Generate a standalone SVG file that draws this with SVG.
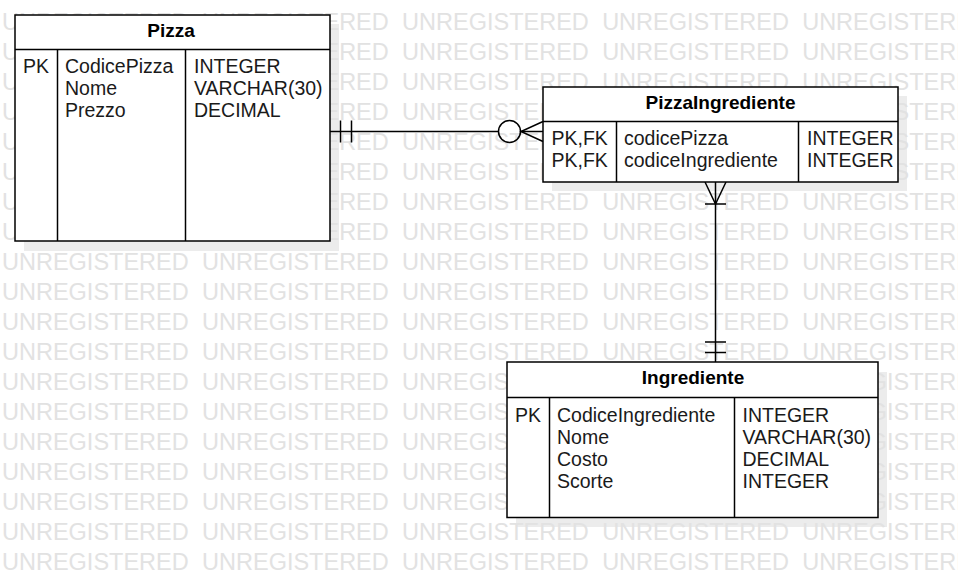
<svg xmlns="http://www.w3.org/2000/svg" width="958" height="577" viewBox="0 0 958 577">
<style>
.wm{font-family:"Liberation Sans",Arial,sans-serif;font-size:23.5px;fill:#e2e2e2;word-spacing:6.8px}
.sh{fill:#ececec}
.box{fill:#ffffff;stroke:#000000;stroke-width:1.5}
.ln{stroke:#000000;stroke-width:1.5;fill:none}
.hd{font-family:"Liberation Sans",Arial,sans-serif;font-size:19px;font-weight:bold;fill:#000000;text-anchor:middle}
.tx{font-family:"Liberation Sans",Arial,sans-serif;font-size:19.5px;fill:#1a1a1a}
.cn{stroke:#000000;stroke-width:1.5;fill:none}
</style>
<g id="shadows">
<rect class="sh" x="24" y="24" width="315" height="227"/>
<rect class="sh" x="552" y="96" width="355" height="95"/>
<rect class="sh" x="516" y="372" width="371" height="155"/>
</g>
<g id="watermark">
<text class="wm" x="2" y="30">UNREGISTERED UNREGISTERED UNREGISTERED UNREGISTERED UNREGISTERED</text>
<text class="wm" x="2" y="60">UNREGISTERED UNREGISTERED UNREGISTERED UNREGISTERED UNREGISTERED</text>
<text class="wm" x="2" y="90">UNREGISTERED UNREGISTERED UNREGISTERED UNREGISTERED UNREGISTERED</text>
<text class="wm" x="2" y="120">UNREGISTERED UNREGISTERED UNREGISTERED UNREGISTERED UNREGISTERED</text>
<text class="wm" x="2" y="150">UNREGISTERED UNREGISTERED UNREGISTERED UNREGISTERED UNREGISTERED</text>
<text class="wm" x="2" y="180">UNREGISTERED UNREGISTERED UNREGISTERED UNREGISTERED UNREGISTERED</text>
<text class="wm" x="2" y="210">UNREGISTERED UNREGISTERED UNREGISTERED UNREGISTERED UNREGISTERED</text>
<text class="wm" x="2" y="240">UNREGISTERED UNREGISTERED UNREGISTERED UNREGISTERED UNREGISTERED</text>
<text class="wm" x="2" y="270">UNREGISTERED UNREGISTERED UNREGISTERED UNREGISTERED UNREGISTERED</text>
<text class="wm" x="2" y="300">UNREGISTERED UNREGISTERED UNREGISTERED UNREGISTERED UNREGISTERED</text>
<text class="wm" x="2" y="330">UNREGISTERED UNREGISTERED UNREGISTERED UNREGISTERED UNREGISTERED</text>
<text class="wm" x="2" y="360">UNREGISTERED UNREGISTERED UNREGISTERED UNREGISTERED UNREGISTERED</text>
<text class="wm" x="2" y="390">UNREGISTERED UNREGISTERED UNREGISTERED UNREGISTERED UNREGISTERED</text>
<text class="wm" x="2" y="420">UNREGISTERED UNREGISTERED UNREGISTERED UNREGISTERED UNREGISTERED</text>
<text class="wm" x="2" y="450">UNREGISTERED UNREGISTERED UNREGISTERED UNREGISTERED UNREGISTERED</text>
<text class="wm" x="2" y="480">UNREGISTERED UNREGISTERED UNREGISTERED UNREGISTERED UNREGISTERED</text>
<text class="wm" x="2" y="510">UNREGISTERED UNREGISTERED UNREGISTERED UNREGISTERED UNREGISTERED</text>
<text class="wm" x="2" y="540">UNREGISTERED UNREGISTERED UNREGISTERED UNREGISTERED UNREGISTERED</text>
<text class="wm" x="2" y="570">UNREGISTERED UNREGISTERED UNREGISTERED UNREGISTERED UNREGISTERED</text>
</g>
<g id="connectors">
<line class="cn" x1="330" y1="131.5" x2="498" y2="131.5"/>
<line class="cn" x1="340.5" y1="120.5" x2="340.5" y2="142.5"/>
<line class="cn" x1="351.5" y1="120.5" x2="351.5" y2="142.5"/>
<circle class="cn" cx="509.5" cy="131.5" r="11"/>
<line class="cn" x1="520.5" y1="131.5" x2="543" y2="131.5"/>
<path class="cn" d="M543,121.5 L521,131.5 L543,141.5"/>
<line class="cn" x1="715.5" y1="182" x2="715.5" y2="362"/>
<path class="cn" d="M705,182 L715.5,204 L726,182"/>
<line class="cn" x1="705" y1="204" x2="726" y2="204"/>
<line class="cn" x1="705" y1="342" x2="726" y2="342"/>
<line class="cn" x1="705" y1="352.5" x2="726" y2="352.5"/>
</g>
<g id="pizza">
<rect class="box" x="15" y="15" width="315" height="226"/>
<line class="ln" x1="15" y1="49.5" x2="330" y2="49.5"/>
<line class="ln" x1="57.5" y1="49.5" x2="57.5" y2="241"/>
<line class="ln" x1="185.5" y1="49.5" x2="185.5" y2="241"/>
<text class="hd" x="171" y="36.5">Pizza</text>
<text class="tx" x="23" y="72.5">PK</text>
<text class="tx" x="65" y="72.5">CodicePizza</text>
<text class="tx" x="65" y="94.5">Nome</text>
<text class="tx" x="65" y="116.5">Prezzo</text>
<text class="tx" x="194" y="72.5">INTEGER</text>
<text class="tx" x="194" y="94.5">VARCHAR(30)</text>
<text class="tx" x="194" y="116.5">DECIMAL</text>
</g>
<g id="pizzaingrediente">
<rect class="box" x="543" y="87" width="355" height="95"/>
<line class="ln" x1="543" y1="121.5" x2="898" y2="121.5"/>
<line class="ln" x1="616.5" y1="121.5" x2="616.5" y2="182"/>
<line class="ln" x1="798.5" y1="121.5" x2="798.5" y2="182"/>
<text class="hd" x="720.5" y="108.5">PizzaIngrediente</text>
<text class="tx" x="551.5" y="144.5">PK,FK</text>
<text class="tx" x="551.5" y="166.5">PK,FK</text>
<text class="tx" x="624" y="144.5">codicePizza</text>
<text class="tx" x="624" y="166.5">codiceIngrediente</text>
<text class="tx" x="807" y="144.5">INTEGER</text>
<text class="tx" x="807" y="166.5">INTEGER</text>
</g>
<g id="ingrediente">
<rect class="box" x="507" y="362" width="371" height="155.5"/>
<line class="ln" x1="507" y1="397.5" x2="878" y2="397.5"/>
<line class="ln" x1="549.5" y1="397.5" x2="549.5" y2="517.5"/>
<line class="ln" x1="734.5" y1="397.5" x2="734.5" y2="517.5"/>
<text class="hd" x="693" y="383.5">Ingrediente</text>
<text class="tx" x="515" y="421.5">PK</text>
<text class="tx" x="557" y="421.5">CodiceIngrediente</text>
<text class="tx" x="557" y="443.5">Nome</text>
<text class="tx" x="557" y="465.5">Costo</text>
<text class="tx" x="557" y="487.5">Scorte</text>
<text class="tx" x="742.5" y="421.5">INTEGER</text>
<text class="tx" x="742.5" y="443.5">VARCHAR(30)</text>
<text class="tx" x="742.5" y="465.5">DECIMAL</text>
<text class="tx" x="742.5" y="487.5">INTEGER</text>
</g>
</svg>
